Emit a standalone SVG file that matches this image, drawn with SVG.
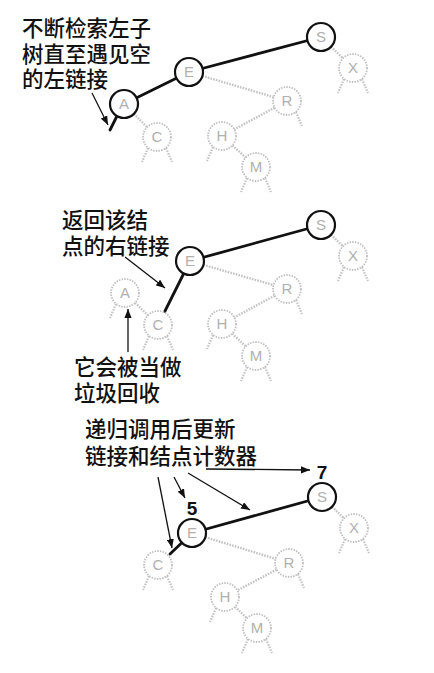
<svg xmlns="http://www.w3.org/2000/svg" width="434" height="673" viewBox="0 0 434 673">
<defs>
<style>
.bg{fill:#ffffff}
.thick{stroke:#111;stroke-width:2.8;stroke-linecap:round;fill:none}
.glink{stroke:#c4c4c4;stroke-width:2.4;stroke-dasharray:1.6 1.2;fill:none}
.stub{stroke:#c4c4c4;stroke-width:2.2;stroke-dasharray:1.6 1.2;fill:none}
.arrow{stroke:#111;stroke-width:1.3;fill:none;marker-end:url(#ah)}
.on circle{fill:#fff;stroke:#111;stroke-width:2.2}
.off circle{fill:#fff;stroke:#c0c0c0;stroke-width:1.8;stroke-dasharray:1.5 1.2}
.node text{font-family:"Liberation Sans","DejaVu Sans",sans-serif;font-size:15px;fill:#b0b0b0;text-anchor:middle}
.lbl{font-family:"Liberation Sans","Noto Sans CJK SC",sans-serif;font-size:21.5px;font-weight:500;fill:#111}
.num{font-family:"Liberation Sans",sans-serif;font-size:19px;font-weight:bold;fill:#111;text-anchor:middle}
</style>
<marker id="ah" viewBox="0 0 10 8" refX="10" refY="4" markerWidth="9" markerHeight="7.2" markerUnits="userSpaceOnUse" orient="auto">
<path d="M0,0 L10,4 L0,8 z" fill="#111"/>
</marker>
</defs>
<rect class="bg" x="0" y="0" width="434" height="673"/>

<g id="connectors">
<!-- panel 1 -->
<line class="thick" x1="124" y1="104" x2="189" y2="72"/>
<line class="thick" x1="189" y1="72" x2="321" y2="37"/>
<line class="thick" x1="117" y1="116" x2="110" y2="130"/>
<line class="glink" x1="124" y1="104" x2="157" y2="137"/>
<line class="glink" x1="189" y1="72" x2="287" y2="101"/>
<line class="glink" x1="287" y1="101" x2="222" y2="136"/>
<line class="glink" x1="222" y1="136" x2="256" y2="167"/>
<line class="glink" x1="321" y1="37" x2="353" y2="68"/>
<path class="stub" d="M148,148 L142,162 M166,148 L172,162 M296,112 L302,126 M213,147 L207,161 M247,178 L241,192 M265,178 L271,192 M344,79 L338,93 M362,79 L368,93"/>
<line class="arrow" x1="92" y1="93" x2="108" y2="125"/>

<!-- panel 2 -->
<line class="thick" x1="190" y1="261" x2="321" y2="225"/>
<line class="thick" x1="190" y1="261" x2="158" y2="325"/>
<line class="glink" x1="125" y1="293" x2="158" y2="325"/>
<line class="glink" x1="190" y1="261" x2="287" y2="289"/>
<line class="glink" x1="287" y1="289" x2="222" y2="324"/>
<line class="glink" x1="222" y1="324" x2="256" y2="356"/>
<line class="glink" x1="321" y1="225" x2="353" y2="256"/>
<path class="stub" d="M116,304 L110,318 M149,336 L143,350 M167,336 L173,350 M296,300 L302,314 M213,335 L207,349 M247,367 L241,381 M265,367 L271,381 M344,267 L338,281 M362,267 L368,281"/>
<line class="arrow" x1="125" y1="257" x2="165" y2="288"/>
<line class="arrow" x1="128" y1="352" x2="128" y2="309"/>

<!-- panel 3 -->
<line class="thick" x1="192" y1="533" x2="322" y2="497"/>
<line class="thick" x1="192" y1="533" x2="170" y2="554"/>
<line class="glink" x1="192" y1="533" x2="289" y2="563"/>
<line class="glink" x1="289" y1="563" x2="225" y2="597"/>
<line class="glink" x1="225" y1="597" x2="257" y2="628"/>
<line class="glink" x1="322" y1="497" x2="354" y2="528"/>
<path class="stub" d="M149,576 L143,590 M167,576 L173,590 M298,574 L304,588 M216,608 L210,622 M248,639 L242,653 M266,639 L272,653 M345,539 L339,553 M363,539 L369,553"/>
<line class="arrow" x1="158" y1="477" x2="172" y2="548"/>
<line class="arrow" x1="174" y1="477" x2="185" y2="498"/>
<line class="arrow" x1="188" y1="473" x2="250" y2="510"/>
<line class="arrow" x1="206" y1="469" x2="310" y2="470"/>
</g>

<!-- panel 1 nodes -->
<g id="p1-S" class="node on"><circle cx="321" cy="37" r="14"/><text x="321" y="42">S</text></g>
<g id="p1-E" class="node on"><circle cx="189" cy="72" r="14"/><text x="189" y="77">E</text></g>
<g id="p1-A" class="node on"><circle cx="124" cy="104" r="14"/><text x="124" y="109">A</text></g>
<g id="p1-C" class="node off"><circle cx="157" cy="137" r="14"/><text x="157" y="142">C</text></g>
<g id="p1-R" class="node off"><circle cx="287" cy="101" r="14"/><text x="287" y="106">R</text></g>
<g id="p1-H" class="node off"><circle cx="222" cy="136" r="14"/><text x="222" y="141">H</text></g>
<g id="p1-M" class="node off"><circle cx="256" cy="167" r="14"/><text x="256" y="172">M</text></g>
<g id="p1-X" class="node off"><circle cx="353" cy="68" r="14"/><text x="353" y="73">X</text></g>

<!-- panel 2 nodes -->
<g id="p2-S" class="node on"><circle cx="321" cy="225" r="14"/><text x="321" y="230">S</text></g>
<g id="p2-E" class="node on"><circle cx="190" cy="261" r="14"/><text x="190" y="266">E</text></g>
<g id="p2-A" class="node off"><circle cx="125" cy="293" r="14"/><text x="125" y="298">A</text></g>
<g id="p2-C" class="node off"><circle cx="158" cy="325" r="14"/><text x="158" y="330">C</text></g>
<g id="p2-R" class="node off"><circle cx="287" cy="289" r="14"/><text x="287" y="294">R</text></g>
<g id="p2-H" class="node off"><circle cx="222" cy="324" r="14"/><text x="222" y="329">H</text></g>
<g id="p2-M" class="node off"><circle cx="256" cy="356" r="14"/><text x="256" y="361">M</text></g>
<g id="p2-X" class="node off"><circle cx="353" cy="256" r="14"/><text x="353" y="261">X</text></g>

<!-- panel 3 nodes -->
<g id="p3-S" class="node on"><circle cx="322" cy="497" r="14"/><text x="322" y="502">S</text></g>
<g id="p3-E" class="node on"><circle cx="192" cy="533" r="14"/><text x="192" y="538">E</text></g>
<g id="p3-C" class="node off"><circle cx="158" cy="565" r="14"/><text x="158" y="570">C</text></g>
<g id="p3-R" class="node off"><circle cx="289" cy="563" r="14"/><text x="289" y="568">R</text></g>
<g id="p3-H" class="node off"><circle cx="225" cy="597" r="14"/><text x="225" y="602">H</text></g>
<g id="p3-M" class="node off"><circle cx="257" cy="628" r="14"/><text x="257" y="633">M</text></g>
<g id="p3-X" class="node off"><circle cx="354" cy="528" r="14"/><text x="354" y="533">X</text></g>

<g id="labels">
<text class="lbl" x="22" y="36">不断检索左子<tspan x="22" dy="26">树直至遇见空</tspan><tspan x="22" dy="25">的左链接</tspan></text>
<text class="lbl" x="62" y="228">返回该结<tspan x="62" dy="26">点的右链接</tspan></text>
<text class="lbl" x="74" y="375">它会被当做<tspan x="74" dy="26">垃圾回收</tspan></text>
<text class="lbl" x="85" y="437">递归调用后更新<tspan x="85" dy="27">链接和结点计数器</tspan></text>
<text class="num" x="322" y="479">7</text>
<text class="num" x="192" y="515">5</text>
</g>
</svg>
